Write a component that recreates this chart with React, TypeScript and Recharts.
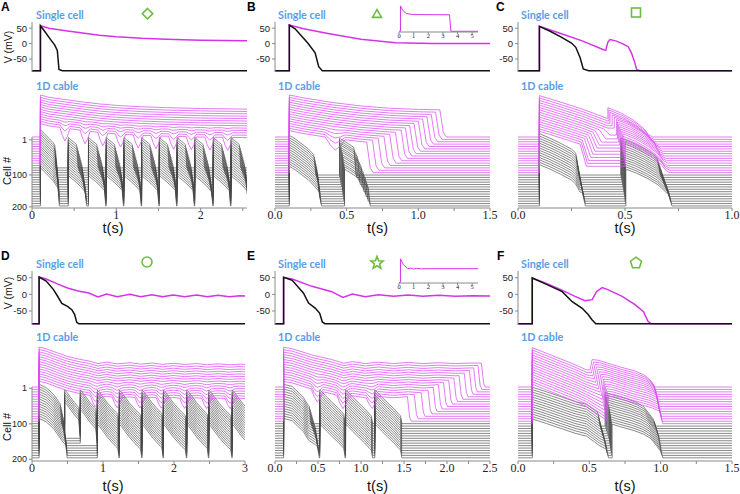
import React from "react";
import { LineChart, Line, XAxis, YAxis } from "recharts";

type P = [number, number];
type Trace = { color: string; j: number; pts: P[] };

const REST = -88;
const MAG = "#d433e8";
const BLK = "#111111";
const CAB_MAG = "#d94ff0";
const CAB_BLK = "#474747";
const AXIS = "#8a8a8a";
const BLUE = "#5b9de6";
const GREEN = "#6cbd3e";

// ---------- single cell traces, [t (s), V (mV)] ----------
const aSingleBlack: P[] = [[0, REST], [0.1, REST], [0.1, 58], [0.15, 40], [0.21, 17], [0.27, -5], [0.3, -22], [0.32, -84], [0.36, REST], [2.55, REST]];
const aSingleMag: P[] = [[0, REST], [0.1, REST], [0.1, 58], [0.2, 50], [0.4, 42], [0.6, 34], [0.8, 27], [1.0, 22], [1.3, 17], [1.6, 14], [2.0, 11], [2.55, 9]];
const bSingleBlack: P[] = [[0, REST], [0.1, REST], [0.1, 60], [0.14, 48], [0.23, 1], [0.28, -30], [0.305, -75], [0.33, REST], [1.5, REST]];
const bSingleMag: P[] = [[0, REST], [0.1, REST], [0.1, 60], [0.2, 48], [0.37, 33], [0.6, 14], [0.84, 3], [1.1, 0], [1.5, 0]];
const cSingleBlack: P[] = [[0, REST], [0.1, REST], [0.1, 56], [0.15, 40], [0.2, 22], [0.25, 2], [0.27, -12], [0.29, -45], [0.305, -82], [0.33, REST], [1, REST]];
const cSingleMag: P[] = [[0, REST], [0.1, REST], [0.1, 56], [0.2, 33], [0.3, 9], [0.4, -20], [0.41, -22], [0.42, 5], [0.43, 13], [0.46, 8], [0.49, -1], [0.515, -10], [0.53, -30], [0.545, -60], [0.555, -85], [0.57, REST], [1, REST]];
const dSingleBlack: P[] = [[0, REST], [0.1, REST], [0.1, 52], [0.2, 40], [0.3, 15], [0.35, -2], [0.42, -27], [0.5, -36], [0.56, -46], [0.6, -60], [0.63, -84], [0.66, REST], [3, REST]];
const dSingleMag: P[] = [[0, REST], [0.1, REST], [0.1, 52], [0.2, 46], [0.35, 32], [0.5, 19], [0.65, 10], [0.8, 4], [0.93, -8], [1.05, 1], [1.2, -7], [1.38, 0], [1.53, -7], [1.69, -1], [1.84, -7], [1.99, -2], [2.15, -7], [2.32, -2], [2.47, -7], [2.62, -3], [2.78, -7], [2.93, -4], [3, -5]];
const eSingleBlack: P[] = [[0, REST], [0.1, REST], [0.1, 51], [0.2, 42], [0.33, 4], [0.39, -26], [0.47, -42], [0.52, -57], [0.55, -83], [0.58, REST], [2.5, REST]];
const eSingleMag: P[] = [[0, REST], [0.1, REST], [0.1, 51], [0.2, 46], [0.43, 24], [0.66, 8], [0.79, -9], [0.9, 1], [1.05, -7], [1.2, -1], [1.38, -6], [1.55, -2], [1.72, -6], [1.9, -3], [2.1, -6], [2.3, -4], [2.5, -5]];
const fSingleBlack: P[] = [[0, REST], [0.1, REST], [0.1, 49], [0.2, 30], [0.31, 8], [0.38, -22], [0.45, -42], [0.49, -60], [0.52, -77], [0.545, REST], [1.5, REST]];
const fSingleMag: P[] = [[0, REST], [0.1, REST], [0.1, 49], [0.2, 33], [0.3, 14], [0.4, -6], [0.47, -19], [0.52, -16], [0.55, 8], [0.59, 20], [0.63, 14], [0.73, -6], [0.82, -31], [0.88, -52], [0.91, -80], [0.93, REST], [1.5, REST]];

// insets (long runs, 0-5.4 s)
const bInset: P[] = [[0, REST], [0.1, REST], [0.1, 55], [0.25, 30], [0.5, 12], [1, 6], [3.45, 5], [3.55, REST], [5.4, REST]];
const eInset: P[] = [[0, REST], [0.1, REST], [0.1, 55], [0.3, 20], [0.6, -5], [0.8, -2], [1.0, -7], [1.2, -3], [1.5, -6], [2, -5], [5.4, -5]];

// ---------- 1D cable ----------
// A
const aCableMag: P[] = [[0, REST], [0.1, REST], [0.1, 58], [0.2, 50], [0.4, 42], [0.6, 34], [0.8, 27], [1.0, 22], [1.3, 17], [1.6, 14], [2.0, 11], [2.55, 9]];
const aMagDip = [0, 0, 0, 0, 0, 0, 0, 0, 2, 4, 8, 18, 45];
const aDipTimes = [0.39, 0.63, 0.84, 1.05, 1.26, 1.47, 1.68, 1.89, 2.11, 2.32];
const aBeats = [0.43, 0.67, 0.88, 1.09, 1.3, 1.51, 1.72, 1.93, 2.15, 2.36];
const aFirst: P[] = [[0, 45], [0.05, 30], [0.1, 15], [0.15, 0], [0.2, -22], [0.23, -40]];
const aFirstDur = [0.17, 0.17, 0.18, 0.18, 0.18, 0.19, 0.19, 0.19, 0.2, 0.2, 0.2, 0.2, 0.21, 0.21, 0.21, 0.21, 0.21];
const aBeatTpl: P[] = [[0, 18], [0.03, 10], [0.08, -2], [0.14, -18], [0.2, -38], [0.23, -48]];
const aBeatDur = [0.1, 0.11, 0.12, 0.13, 0.14, 0.15, 0.16, 0.165, 0.17, 0.175, 0.18, 0.185, 0.19, 0.195, 0.2, 0.2, 0.205];

// B
const bCableMag: P[] = [[0, REST], [0.1, REST], [0.1, 58], [0.2, 48], [0.4, 32], [0.6, 20], [0.8, 12], [1.0, 8], [1.2, 6], [1.5, 5]];
const bMagRepol = [1.15, 1.12, 1.09, 1.06, 1.03, 1.0, 0.97, 0.94, 0.91, 0.88, 0.84, 0.8, 0.76, 0.72, 0.68, 0.64];
const bMagDip = [0, 0, 0, 0, 0, 0, 0, 0, 0, 0, 0, 3, 8, 15, 25, 40];
const bFirst: P[] = [[0, 50], [0.04, 38], [0.13, 4], [0.18, -22], [0.21, -40]];
const bFirstDur = [0.17, 0.175, 0.18, 0.185, 0.19, 0.19, 0.195, 0.195, 0.2, 0.2, 0.2, 0.205, 0.205, 0.21];
const bSecond = [0.45, 0.45, 0.455, 0.46, 0.46, 0.465, 0.47, 0.47, 0.475, 0.475, 0.48, 0.48, 0.485, 0.485];
const bSecTpl: P[] = [[0, 40], [0.04, 28], [0.1, 8], [0.15, -15], [0.18, -35]];
const bSecDur = [0.1, 0.105, 0.11, 0.115, 0.12, 0.125, 0.13, 0.135, 0.14, 0.145, 0.15, 0.155, 0.16, 0.165];

// C
const cMagDecl: P[] = [[0, REST], [0.1, REST], [0.1, 56], [0.2, 33], [0.3, 9], [0.42, -24]];
const cMagDrop = [0, 0, 0, 0, 0, 0.4, 0.38, 0.36, 0.35, 0.34, 0.33, 0.32, 0.31, 0.3, 0.295, 0.29];
const cMagLow = [0, 0, 0, 0, 0, -40, -45, -48, -50, -52, -55, -57, -60, -62, -64, -66];
const cMagEad = [0.42, 0.425, 0.43, 0.44, 0.45, 0.46, 0.465, 0.47, 0.475, 0.48, 0.485, 0.49, 0.49, 0.495, 0.5, 0.5];
const cEadTpl: P[] = [[0, 14], [0.06, -4], [0.12, -30], [0.17, -60], [0.19, -80], [0.21, REST]];
const cFirst: P[] = [[0, 56], [0.05, 40], [0.1, 22], [0.15, 2], [0.17, -12], [0.19, -40]];
const cFirstDur = [0.17, 0.172, 0.175, 0.178, 0.18, 0.183, 0.185, 0.188, 0.19, 0.192, 0.195, 0.197, 0.2, 0.2];
const cSecond = [0.48, 0.482, 0.484, 0.486, 0.488, 0.49, 0.492, 0.494, 0.496, 0.498, 0.5, 0.5, 0.502, 0.504];
const cSecTpl: P[] = [[0, 40], [0.05, 26], [0.1, 8], [0.15, -14], [0.19, -42]];
const cSecDur = [0.17, 0.172, 0.175, 0.178, 0.18, 0.182, 0.185, 0.188, 0.19, 0.192, 0.195, 0.197, 0.2, 0.2];

// D
const dCableMag: P[] = [[0, REST], [0.1, REST], [0.1, 52], [0.2, 46], [0.35, 32], [0.5, 19], [0.65, 10], [0.8, 3], [0.93, -6], [1.05, -1], [1.2, -7], [1.38, -3], [1.53, -8], [1.69, -4], [1.84, -9], [1.99, -5], [2.15, -9], [2.32, -6], [2.47, -10], [2.62, -7], [2.78, -10], [2.93, -8], [3, -9]];
const dMagDip = [0, 0, 0, 0, 0, 0, 0, 0, 2, 4, 7, 11, 16, 24, 34];
const dDipTimes = [0.89, 1.2, 1.52, 1.82, 2.15, 2.46, 2.79];
const dBeats = [0.46, 0.68, 0.92, 1.23, 1.55, 1.85, 2.18, 2.49, 2.82];
const dFirstBeat = [0, 0, 0, 0, 0, 0, 1, 1, 1, 2, 2, 2, 2, 2, 2];
const dFirst: P[] = [[0, 50], [0.1, 38], [0.2, 15], [0.25, -2], [0.32, -27], [0.38, -45]];
const dFirstDur = [0.3, 0.31, 0.32, 0.33, 0.34, 0.34, 0.35, 0.35, 0.36, 0.36, 0.37, 0.37, 0.38, 0.38, 0.38];
const dBeatTpl: P[] = [[0, 30], [0.03, 22], [0.08, 5], [0.14, -15], [0.2, -32], [0.26, -48], [0.32, -62]];

// E
const eCableMag: P[] = [[0, REST], [0.1, REST], [0.1, 51], [0.2, 46], [0.43, 24], [0.66, 8], [0.8, -5], [0.9, 1], [1.05, -6], [1.2, -1], [1.38, -6], [1.55, -2], [1.72, -6], [1.9, -3], [2.1, -6], [2.3, -4], [2.5, -5]];
const eMagRepol = [2.4, 2.36, 2.31, 2.26, 2.2, 2.14, 2.08, 2.02, 1.96, 1.9, 1.84, 1.78, 1.7, 1.62, 1.54];
const eMagDip = [0, 0, 0, 0, 0, 0, 0, 2, 4, 7, 10, 15, 22, 30, 40];
const eDipTimes = [0.49, 0.79, 1.13];
const eBeats = [0.52, 0.82, 1.16];
const eFirst: P[] = [[0, 50], [0.1, 42], [0.23, 4], [0.29, -26], [0.37, -42], [0.42, -57]];
const eFirstDur = [0.3, 0.31, 0.32, 0.33, 0.34, 0.35, 0.36, 0.37, 0.37, 0.38, 0.38, 0.39, 0.39, 0.4, 0.4];
const eBeatTpl: P[] = [[0, 30], [0.03, 22], [0.08, 6], [0.15, -15], [0.22, -35], [0.28, -55], [0.31, -64]];

// F
const fMagDecl: P[] = [[0, REST], [0.1, REST], [0.1, 50], [0.2, 30], [0.3, 10], [0.4, -10], [0.48, -28]];
const fMagEad = [0.52, 0.53, 0.54, 0.55, 0.56, 0.57, 0.58, 0.59, 0.6, 0.605, 0.61, 0.615, 0.62, 0.625, 0.63, 0.635];
const fMagLow = [-28, -30, -32, -34, -37, -40, -43, -46, -50, -54, -58, -62, -66, -70, -73, -76];
const fMagRepol = [0.94, 0.945, 0.95, 0.953, 0.956, 0.96, 0.963, 0.966, 0.97, 0.973, 0.976, 0.98, 0.983, 0.986, 0.99, 0.995];
const fEadTpl: P[] = [[0, 8], [0.04, 6], [0.19, -17], [0.3, -32], [0.36, -45], [0.4, -60], [0.42, -72]];
const fFirst: P[] = [[0, 48], [0.1, 32], [0.2, 15], [0.3, -2], [0.38, -12], [0.43, -30], [0.47, -45], [0.52, -58]];
const fFirstDur = [0.46, 0.465, 0.47, 0.475, 0.48, 0.485, 0.49, 0.495, 0.5, 0.505, 0.51, 0.51, 0.515, 0.52];
const fSecond = [0.61, 0.615, 0.62, 0.625, 0.63, 0.635, 0.64, 0.642, 0.645, 0.648, 0.65, 0.653, 0.656, 0.66];
const fSecTpl: P[] = [[0, 30], [0.05, 22], [0.15, 8], [0.22, -5], [0.27, -20], [0.31, -45], [0.34, -65]];

// ---------- helpers ----------
function valAt(pts: P[], t: number): number {
  if (t <= pts[0][0]) return pts[0][1];
  for (let i = 1; i < pts.length; i++) {
    if (t <= pts[i][0]) {
      const [t0, v0] = pts[i - 1];
      const [t1, v1] = pts[i];
      return t1 === t0 ? v1 : v0 + ((v1 - v0) * (t - t0)) / (t1 - t0);
    }
  }
  return pts[pts.length - 1][1];
}

function cut(pts: P[], t0: number, t1: number): P[] {
  const out: P[] = [[t0, valAt(pts, t0)]];
  pts.forEach((p) => { if (p[0] > t0 && p[0] < t1) out.push(p); });
  out.push([t1, valAt(pts, t1)]);
  return out;
}

const place = (rel: P[], t0: number, d: number): P[] => cut(rel, 0, d).map(([t, v]) => [t + t0, v] as P);

function withDips(tpl: P[], centers: number[], depth: number, hw: number): P[] {
  if (depth <= 0) return tpl;
  const out = tpl.filter(([t]) => !centers.some((c) => Math.abs(t - c) < hw));
  centers.forEach((c) => {
    out.push([c - hw, valAt(tpl, c - hw)]);
    out.push([c - hw / 2, valAt(tpl, c - hw / 2) - depth * 0.6]);
    out.push([c, valAt(tpl, c) - depth]);
    out.push([c + hw / 2, valAt(tpl, c + hw / 2) - depth * 0.6]);
    out.push([c + hw, valAt(tpl, c + hw)]);
  });
  return out.sort((p, q) => p[0] - q[0]);
}

function repolAt(pts: P[], r: number, tEnd: number): P[] {
  return [...cut(pts, 0, r), [r + 0.025, REST + 15], [r + 0.045, REST], [tEnd, REST]];
}

function train(first: P[], firstDur: number, tpl: P[], beats: number[], dur: number, tEnd: number): P[] {
  const pts: P[] = [[0, REST], [0.1, REST], ...place(first, 0.1, firstDur), [0.1 + firstDur + 0.015, REST]];
  beats.forEach((b, i) => {
    const next = i + 1 < beats.length ? beats[i + 1] : tEnd + 0.02;
    const d = Math.min(dur, next - b - 0.02);
    pts.push([b, REST], ...place(tpl, b, d));
    if (b + d + 0.015 < tEnd) pts.push([b + d + 0.015, REST]);
  });
  if (pts[pts.length - 1][0] < tEnd) pts.push([tEnd, REST]);
  return pts;
}

// ---------- cable builds ----------
function buildA(): Trace[] {
  const out: Trace[] = aMagDip.map((d, j) => ({ color: CAB_MAG, j, pts: withDips(aCableMag, aDipTimes, d, 0.06) }));
  aFirstDur.forEach((fd, k) => out.push({ color: CAB_BLK, j: aMagDip.length + k, pts: train(aFirst, fd, aBeatTpl, aBeats, aBeatDur[k], 2.55) }));
  return out;
}
function buildB(): Trace[] {
  const out: Trace[] = bMagRepol.map((r, j) => ({ color: CAB_MAG, j, pts: repolAt(withDips(bCableMag, [0.42], bMagDip[j], 0.07), r, 1.5) }));
  bFirstDur.forEach((fd, k) => out.push({ color: CAB_BLK, j: bMagRepol.length + k, pts: train(bFirst, fd, bSecTpl, [bSecond[k]], bSecDur[k], 1.5) }));
  return out;
}
function buildC(): Trace[] {
  const out: Trace[] = cMagEad.map((e, j) => {
    const p = cMagDrop[j];
    const head: P[] = p > 0 ? [...cut(cMagDecl, 0, p), [p + 0.03, cMagLow[j]], [e, cMagLow[j]]] : cut(cMagDecl, 0, e);
    return { color: CAB_MAG, j, pts: [...head, ...place(cEadTpl, e, 0.21), [1, REST]] };
  });
  cFirstDur.forEach((fd, k) => out.push({ color: CAB_BLK, j: cMagEad.length + k, pts: train(cFirst, fd, cSecTpl, [cSecond[k]], cSecDur[k], 1) }));
  return out;
}
function buildD(): Trace[] {
  const out: Trace[] = dMagDip.map((d, j) => ({ color: CAB_MAG, j, pts: withDips(dCableMag, dDipTimes, d, 0.07) }));
  dFirstDur.forEach((fd, k) => out.push({ color: CAB_BLK, j: dMagDip.length + k, pts: train(dFirst, fd, dBeatTpl, dBeats.slice(dFirstBeat[k]), 1, 3) }));
  return out;
}
function buildE(): Trace[] {
  const out: Trace[] = eMagRepol.map((r, j) => ({ color: CAB_MAG, j, pts: repolAt(withDips(eCableMag, eDipTimes, eMagDip[j], 0.07), r, 2.5) }));
  eFirstDur.forEach((fd, k) => out.push({ color: CAB_BLK, j: eMagRepol.length + k, pts: train(eFirst, fd, eBeatTpl, eBeats, 0.3, 2.5) }));
  return out;
}
function buildF(): Trace[] {
  const out: Trace[] = fMagEad.map((e, j) => ({
    color: CAB_MAG,
    j,
    pts: [...cut(fMagDecl, 0, 0.48), [e - 0.015, fMagLow[j]], ...place(fEadTpl, e, fMagRepol[j] - e), [fMagRepol[j] + 0.02, REST], [1.5, REST]],
  }));
  fFirstDur.forEach((fd, k) => out.push({ color: CAB_BLK, j: fMagEad.length + k, pts: train(fFirst, fd, fSecTpl, [fSecond[k]], 0.34, 1.5) }));
  return out;
}

// ---------- layout ----------
type Row = { sTop: number; sBot: number; cTop: number; cBot: number; cDom: [number, number]; sp: number; cellTicks: number[] };
const ROWS: Row[] = [
  { sTop: 22, sBot: 72, cTop: 93, cBot: 208, cDom: [-247, 153], sp: 8.27, cellTicks: [-10, -132, -243] },
  { sTop: 271, sBot: 325, cTop: 345, cBot: 461, cDom: [-259, 147], sp: 8.55, cellTicks: [-4.5, -129, -253] },
];
const SDOM: [number, number] = [-92, 70];
const cellLabels = ["1", "100", "200"];

type PanelDef = {
  id: string; row: number; x0: number; x1: number; tEnd: number; ticks: number[]; step: number; dec: number;
  mag: P[]; black: P[]; cable: Trace[]; cellAxis: boolean; inset?: P[];
};

const PANELS: PanelDef[] = [
  { id: "A", row: 0, x0: 32, x1: 247, tEnd: 2.55, ticks: [0, 0.5, 1, 1.5, 2, 2.5], step: 1, dec: 0, mag: aSingleMag, black: aSingleBlack, cable: buildA(), cellAxis: true },
  { id: "B", row: 0, x0: 275, x1: 490, tEnd: 1.5, ticks: [0, 0.25, 0.5, 0.75, 1, 1.25, 1.5], step: 0.5, dec: 1, mag: bSingleMag, black: bSingleBlack, cable: buildB(), cellAxis: false, inset: bInset },
  { id: "C", row: 0, x0: 518, x1: 732, tEnd: 1, ticks: [0, 0.25, 0.5, 0.75, 1], step: 0.5, dec: 1, mag: cSingleMag, black: cSingleBlack, cable: buildC(), cellAxis: false },
  { id: "D", row: 1, x0: 32, x1: 245, tEnd: 3, ticks: [0, 0.5, 1, 1.5, 2, 2.5, 3], step: 1, dec: 0, mag: dSingleMag, black: dSingleBlack, cable: buildD(), cellAxis: true },
  { id: "E", row: 1, x0: 275, x1: 490, tEnd: 2.5, ticks: [0, 0.25, 0.5, 0.75, 1, 1.25, 1.5, 1.75, 2, 2.25, 2.5], step: 0.5, dec: 1, mag: eSingleMag, black: eSingleBlack, cable: buildE(), cellAxis: false, inset: eInset },
  { id: "F", row: 1, x0: 518, x1: 732, tEnd: 1.5, ticks: [0, 0.25, 0.5, 0.75, 1, 1.25, 1.5], step: 0.5, dec: 1, mag: fSingleMag, black: fSingleBlack, cable: buildF(), cellAxis: false },
];

type Series = { data: { t: number; v: number }[]; color: string; w: number };
type XA = { ticks: number[]; fmt: (v: number) => string; fs: number; h: number; tickSize: number };
type YA = { ticks: number[]; fmt: (v: number) => string; line: boolean; fs: number };

const toSeries = (pts: P[], color: string, w: number, off = 0): Series => ({ data: pts.map(([t, v]) => ({ t, v: v - off })), color, w });

const PAD = 14;

function Plot(props: { left: number; top: number; w: number; h: number; xDom: [number, number]; yDom: [number, number]; series: Series[]; xAxis?: XA; yAxis?: YA }) {
  const { left, top, w, h, xDom, yDom, series, xAxis, yAxis } = props;
  const yw = yAxis ? 30 : 0;
  const xh = xAxis ? xAxis.h : 0;
  const padL = yAxis ? 0 : PAD;
  return (
    <div style={{ position: "absolute", left: left - yw - padL, top }}>
      <LineChart width={w + yw + padL + PAD} height={h + xh} margin={{ top: 0, right: PAD, bottom: 0, left: padL }}>
        <XAxis
          type="number"
          dataKey="t"
          domain={xDom}
          allowDataOverflow
          hide={!xAxis}
          height={xh}
          ticks={xAxis ? xAxis.ticks : undefined}
          interval={0}
          tickFormatter={xAxis ? xAxis.fmt : undefined}
          tickSize={xAxis ? xAxis.tickSize : 3}
          tickMargin={-1}
          tick={{ fontSize: xAxis ? xAxis.fs : 12, fontFamily: "Liberation Serif", fill: "#222" }}
          axisLine={{ stroke: AXIS }}
          tickLine={{ stroke: AXIS }}
        />
        <YAxis
          type="number"
          domain={yDom}
          allowDataOverflow
          hide={!yAxis}
          width={yw}
          ticks={yAxis ? yAxis.ticks : undefined}
          interval={0}
          tickFormatter={yAxis ? yAxis.fmt : undefined}
          tickSize={3}
          tickMargin={2}
          axisLine={yAxis && yAxis.line ? { stroke: AXIS } : false}
          tickLine={{ stroke: AXIS }}
          tick={{ fontSize: yAxis ? yAxis.fs : 9.5, fontFamily: "Liberation Sans", fill: "#222" }}
        />
        {series.map((s, i) => (
          <Line key={i} data={s.data} dataKey="v" type="linear" stroke={s.color} strokeWidth={s.w} dot={false} activeDot={false} isAnimationActive={false} />
        ))}
      </LineChart>
    </div>
  );
}

function Panel({ p }: { p: PanelDef }) {
  const r = ROWS[p.row];
  const w = p.x1 - p.x0;
  const fmt = (v: number) => (Math.abs(v / p.step - Math.round(v / p.step)) < 1e-6 ? v.toFixed(p.dec) : "");
  const ordered = [...p.cable].sort((a, b) => (a.color === b.color ? b.j - a.j : a.color === CAB_BLK ? -1 : 1));
  const insetTop = p.row === 0 ? 5 : 258;
  const insetH = p.row === 0 ? 27 : 25;
  return (
    <>
      <Plot
        left={p.x0}
        top={r.sTop}
        w={w}
        h={r.sBot - r.sTop}
        xDom={[0, p.tEnd]}
        yDom={SDOM}
        series={[toSeries(p.mag, MAG, 1.5), toSeries(p.black, BLK, 1.5)]}
        yAxis={{ ticks: [50, 0, -50], fmt: (v) => String(v), line: true, fs: 9.5 }}
      />
      <Plot
        left={p.x0}
        top={r.cTop}
        w={w}
        h={r.cBot - r.cTop}
        xDom={[0, p.tEnd]}
        yDom={r.cDom}
        series={ordered.map((tr) => toSeries(tr.pts, tr.color, tr.color === CAB_BLK ? 0.65 : 0.75, REST + r.sp * tr.j))}
        xAxis={{ ticks: p.ticks, fmt, fs: 12, h: 24, tickSize: 3 }}
        yAxis={p.cellAxis ? { ticks: r.cellTicks, fmt: (v) => cellLabels[r.cellTicks.indexOf(v)] ?? "", line: false, fs: 9 } : undefined}
      />
      {p.inset && (
        <Plot
          left={399}
          top={insetTop}
          w={79}
          h={insetH}
          xDom={[0, 5.4]}
          yDom={[-92, 60]}
          series={[toSeries(p.inset, MAG, 1)]}
          xAxis={{ ticks: [0, 1, 2, 3, 4, 5], fmt: (v) => String(v), fs: 6.5, h: 10, tickSize: 2 }}
        />
      )}
    </>
  );
}

function star(cx: number, cy: number, ro: number, ri: number, n: number): string {
  const pts: string[] = [];
  for (let i = 0; i < n * 2; i++) {
    const rr = i % 2 === 0 ? ro : ri;
    const a = -Math.PI / 2 + (i * Math.PI) / n;
    pts.push(`${(cx + rr * Math.cos(a)).toFixed(2)},${(cy + rr * Math.sin(a)).toFixed(2)}`);
  }
  return pts.join(" ");
}
function poly(cx: number, cy: number, r: number, n: number): string {
  const pts: string[] = [];
  for (let i = 0; i < n; i++) {
    const a = -Math.PI / 2 + (i * 2 * Math.PI) / n;
    pts.push(`${(cx + r * Math.cos(a)).toFixed(2)},${(cy + r * Math.sin(a)).toFixed(2)}`);
  }
  return pts.join(" ");
}

function Overlay() {
  const letters = [["A", 1, 11], ["B", 247, 11], ["C", 496, 11], ["D", 1, 260], ["E", 247, 260], ["F", 497, 260]] as const;
  const colX = [36, 278, 521];
  const tx = [113, 377.5, 625];
  const blue = { fill: BLUE, fontFamily: "Lato", fontWeight: 700, fontSize: 10.8 } as const;
  return (
    <svg width={740} height={494} style={{ position: "absolute", left: 0, top: 0, pointerEvents: "none" }}>
      {letters.map(([l, x, y]) => (
        <text key={l} x={x} y={y} fontFamily="Liberation Sans" fontWeight={700} fontSize={12} fill="#000">{l}</text>
      ))}
      {colX.map((x) => (
        <g key={x}>
          <text x={x} y={18.5} {...blue}>Single cell</text>
          <text x={x} y={90} {...blue}>1D cable</text>
          <text x={x} y={268} {...blue}>Single cell</text>
          <text x={x} y={341} {...blue}>1D cable</text>
        </g>
      ))}
      {tx.map((x) => (
        <g key={x}>
          <text x={x} y={233} textAnchor="middle" fontFamily="Liberation Sans" fontSize={14.5} fill="#111">t(s)</text>
          <text x={x} y={491} textAnchor="middle" fontFamily="Liberation Sans" fontSize={14.5} fill="#111">t(s)</text>
        </g>
      ))}
      <text transform="translate(12,47) rotate(-90)" textAnchor="middle" fontFamily="Liberation Sans" fontSize={10.5} fill="#111">V (mV)</text>
      <text transform="translate(12,293) rotate(-90)" textAnchor="middle" fontFamily="Liberation Sans" fontSize={10.5} fill="#111">V (mV)</text>
      <text transform="translate(11,171) rotate(-90)" textAnchor="middle" fontFamily="Liberation Sans" fontSize={11} fill="#111">Cell #</text>
      <text transform="translate(11,427) rotate(-90)" textAnchor="middle" fontFamily="Liberation Sans" fontSize={11} fill="#111">Cell #</text>
      <line x1={32} y1={137} x2={32} y2={208} stroke={AXIS} strokeWidth={1} />
      <line x1={32} y1={387} x2={32} y2={461} stroke={AXIS} strokeWidth={1} />
      <g fill="none" stroke={GREEN} strokeWidth={1.6}>
        <polygon points={poly(147.5, 13.7, 5.2, 4)} />
        <polygon points={poly(377, 14.8, 5.2, 3)} />
        <rect x={631.5} y={8} width={9} height={9} />
        <circle cx={147} cy={262} r={5} />
        <polygon points={star(377, 263, 6.5, 2.8, 5)} />
        <polygon points={poly(636, 263, 5.8, 5)} />
      </g>
    </svg>
  );
}

export default function App() {
  return (
    <div style={{ position: "absolute", left: 0, top: 0, width: 740, height: 494, background: "#fff", overflow: "hidden" }}>
      {PANELS.map((p) => (
        <Panel key={p.id} p={p} />
      ))}
      <Overlay />
    </div>
  );
}
